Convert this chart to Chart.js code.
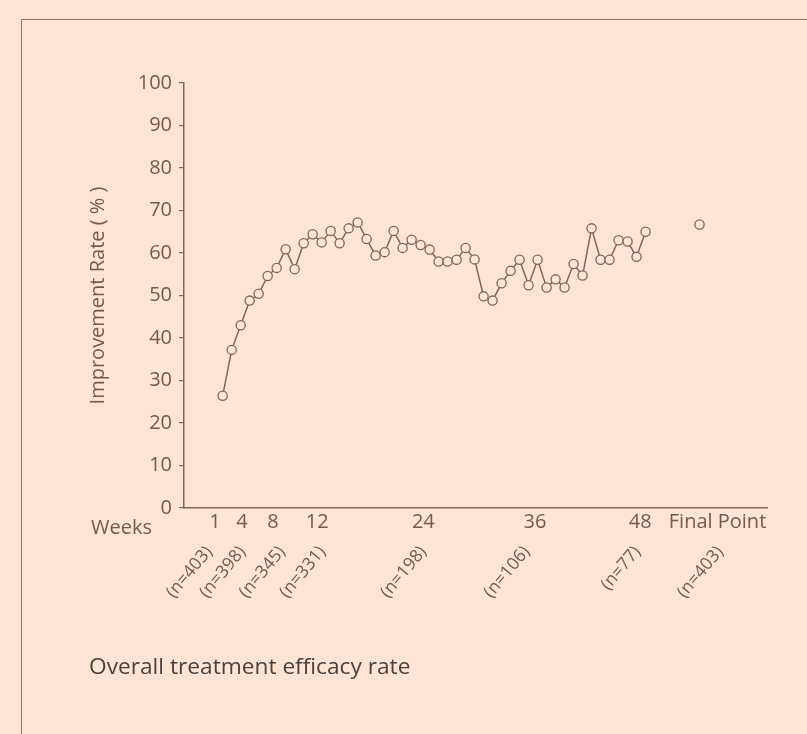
<!DOCTYPE html>
<html>
<head>
<meta charset="utf-8">
<script src="https://cdn.jsdelivr.net/npm/chart.js@4"></script>
<style>
  html,body{margin:0;padding:0;background:#fde4d5;overflow:hidden;width:807px;height:734px;}
  .frame{position:absolute;left:21px;top:19px;width:900px;height:900px;border:1.5px solid #8f776b;box-sizing:border-box;}
  .caption{position:absolute;left:89px;top:650px;font-family:'Open Sans',sans-serif;font-size:22.7px;color:#4a403c;white-space:nowrap;line-height:32px;}
  #chart{position:absolute;left:0;top:0;}
</style>
</head>
<body>
<div class="frame"></div>
<canvas id="chart" width="807" height="734"></canvas>
<div class="caption">Overall treatment efficacy rate</div>
<script>
// weekly improvement rate (%), weeks 1..48
const weeks = [1,2,3,4,5,6,7,8,9,10,11,12,13,14,15,16,17,18,19,20,21,22,23,24,25,26,27,28,29,30,31,32,33,34,35,36,37,38,39,40,41,42,43,44,45,46,47,48];
const rates = [26.4,37.2,43.0,48.8,50.4,54.6,56.5,60.9,56.2,62.3,64.4,62.5,65.2,62.3,65.8,67.2,63.3,59.4,60.2,65.2,61.2,63.1,61.9,60.8,58.0,58.0,58.4,61.2,58.5,49.8,48.8,52.9,55.8,58.4,52.4,58.4,51.9,53.8,51.9,57.4,54.7,65.8,58.4,58.4,63.0,62.7,59.1,65.0];
// final point
const finalWeek = 54;
const finalRate = 66.7;

// x-axis labels, as placed in the picture
const weekTickPos = [0.15, 3.15, 6.6, 11.5, 23.3, 35.7, 47.4, 56.0];
const weekTickLabels = ['1','4','8','12','24','36','48','Final Point'];
const nTickPos = [-0.5, 3.2, 7.6, 12.1, 23.3, 34.8, 47.1, 56.3];
const nTickLabels = ['(n=403)','(n=398)','(n=345)','(n=331)','(n=198)','(n=106)','(n=77)','(n=403)'];

const BG = '#fde4d5';
const INK = '#725a50';
const LINE = '#7d655c';

Chart.defaults.font.family = "'Open Sans', sans-serif";
Chart.defaults.color = INK;

const weeksLabel = {
  id: 'weeksLabel',
  afterDraw(chart) {
    const xs = chart.scales.x;
    const ctx = chart.ctx;
    ctx.save();
    ctx.font = "20px 'Open Sans', sans-serif";
    ctx.fillStyle = INK;
    ctx.textAlign = 'right';
    ctx.textBaseline = 'middle';
    ctx.fillText('Weeks', xs.left - 32, xs.top + 20);
    ctx.restore();
  }
};

new Chart(document.getElementById('chart'), {
  type: 'line',
  data: {
    datasets: [
      {label:'Rate', data: weeks.map((w,i)=>({x:w, y:rates[i]})), borderColor: LINE, borderWidth: 1.5,
        pointRadius: 4.6, pointBorderWidth: 1.3, pointBackgroundColor: BG, pointBorderColor: LINE, tension: 0},
      {label:'Final', data: [{x:finalWeek, y:finalRate}], showLine: false,
        pointRadius: 4.6, pointBorderWidth: 1.3, pointBackgroundColor: BG, pointBorderColor: LINE}
    ]
  },
  options: {
    responsive: false,
    animation: false,
    layout: {padding: {left: 80, right: 40, top: 83, bottom: 100}},
    plugins: {legend: {display: false}, tooltip: {enabled: false}},
    scales: {
      x: {
        type: 'linear', position: 'bottom', weight: 0, min: -3.3, max: 61.5,
        afterBuildTicks: s => { s.ticks = weekTickPos.map(v => ({value: v})); },
        afterFit: s => { s.height = 26; },
        ticks: {autoSkip: false, maxRotation: 0, minRotation: 0, padding: 2, color: INK, font: {size: 20},
          callback: (v, i) => weekTickLabels[i]},
        grid: {drawOnChartArea: false, drawTicks: false},
        border: {color: LINE, width: 1.5}
      },
      n: {
        type: 'linear', position: 'bottom', axis: 'x', weight: 1, min: -3.3, max: 61.5,
        afterBuildTicks: s => { s.ticks = nTickPos.map(v => ({value: v})); },
        afterFit: s => { s.height = 100; },
        ticks: {autoSkip: false, maxRotation: 50, minRotation: 50, padding: 0, color: INK, font: {size: 17.5},
          callback: (v, i) => nTickLabels[i]},
        grid: {display: false},
        border: {display: false}
      },
      y: {
        min: 0, max: 100,
        afterFit: s => { s.width = 104; },
        ticks: {stepSize: 10, padding: 7, color: INK, font: {size: 20}},
        grid: {drawOnChartArea: false, drawTicks: true, tickLength: 5, color: LINE, lineWidth: 1.2},
        border: {color: LINE, width: 1.5},
        title: {display: true, text: 'Improvement Rate ( % )', color: INK, font: {size: 20}, padding: 6}
      }
    }
  },
  plugins: [weeksLabel]
});
</script>
</body>
</html>
